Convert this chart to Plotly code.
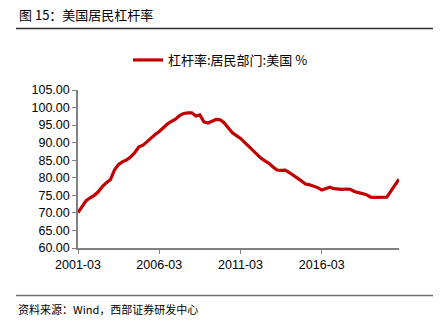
import plotly.graph_objects as go

# Quarterly dates 2001-03 .. 2020-12
dates = [f"{y}-{m:02d}" for y in range(2001, 2021) for m in (3, 6, 9, 12)]

leverage = [
    70.1, 71.8, 73.5, 74.3, 75.0, 76.0, 77.5, 78.6, 79.5, 82.3,
    83.8, 84.6, 85.1, 86.0, 87.2, 88.8, 89.3, 90.3, 91.4, 92.3,
    93.2, 94.3, 95.3, 96.1, 96.7, 97.7, 98.3, 98.5, 98.5, 97.6,
    97.9, 95.9, 95.6, 96.1, 96.6, 96.5, 95.6, 94.2, 92.8, 92.0,
    91.2, 90.1, 89.0, 87.9, 86.6, 85.6, 84.8, 84.1, 83.1, 82.2,
    82.1, 82.2, 81.5, 80.8, 79.9, 79.1, 78.2, 78.0, 77.7, 77.2,
    76.5, 77.0, 77.3, 76.9, 76.7, 76.7, 76.8, 76.7, 76.1, 75.7,
    75.5, 75.2, 74.5, 74.4, 74.5, 74.5, 74.5, 76.2, 77.9, 79.6,
]

x_tick_labels = ["2001-03", "2006-03", "2011-03", "2016-03"]
y_ticks = [60, 65, 70, 75, 80, 85, 90, 95, 100, 105]

series_name = "杠杆率:居民部门:美国 %"
title_text = "图 15：美国居民杠杆率"
source_text = "资料来源：Wind，西部证券研发中心"

idx = list(range(len(dates)))
tick_idx = [dates.index(d) for d in x_tick_labels]

W, H = 441, 328
L, R, T, B = 78, 42, 90, 80
pw, ph = W - L - R, H - T - B


def px(x):
    return (x - L) / pw


def py(y):
    return (H - B - y) / ph


fig = go.Figure()
fig.add_trace(go.Scatter(
    x=idx, y=leverage, mode="lines", name=series_name,
    line=dict(color="#C00000", width=3.2),
    showlegend=True,
))

axis_color = "#808080"
fig.update_layout(
    width=W, height=H,
    margin=dict(l=L, r=R, t=T, b=B),
    paper_bgcolor="white", plot_bgcolor="white",
    font=dict(family="Liberation Sans, Arial, sans-serif", color="#000000"),
    showlegend=True,
    legend=dict(
        orientation="h", x=px(128), xanchor="left", y=py(60), yanchor="middle",
        font=dict(family="Noto Sans CJK SC", size=13),
        bgcolor="rgba(0,0,0,0)",
    ),
    xaxis=dict(
        range=[0, len(dates) - 1], tickmode="array", tickvals=tick_idx,
        ticktext=x_tick_labels, showgrid=False, zeroline=False,
        showline=True, linecolor=axis_color, linewidth=1.5,
        ticks="outside", ticklen=4, tickcolor=axis_color,
        tickfont=dict(size=12.5),
    ),
    yaxis=dict(
        range=[60, 105], tickmode="array", tickvals=y_ticks,
        ticktext=[f"{v:.2f}" for v in y_ticks], showgrid=False, zeroline=False,
        showline=True, linecolor=axis_color, linewidth=1.5,
        ticks="outside", ticklen=4, tickcolor=axis_color,
        tickfont=dict(size=12.5),
    ),
)

fig.add_annotation(
    text=title_text, xref="paper", yref="paper", x=px(17), y=py(14),
    showarrow=False, xanchor="left", yanchor="middle",
    font=dict(family="Noto Sans CJK SC", size=13),
)
fig.add_annotation(
    text=source_text, xref="paper", yref="paper", x=px(16), y=py(309),
    showarrow=False, xanchor="left", yanchor="middle",
    font=dict(family="Noto Sans CJK SC", size=11),
)

fig.add_shape(type="line", xref="paper", yref="paper",
              x0=px(16), x1=px(433), y0=py(28.5), y1=py(28.5),
              line=dict(color="#303030", width=1.5))
fig.add_shape(type="line", xref="paper", yref="paper",
              x0=px(16), x1=px(433), y0=py(295.5), y1=py(295.5),
              line=dict(color="#707070", width=1.5))

fig.write_html("out.html")
